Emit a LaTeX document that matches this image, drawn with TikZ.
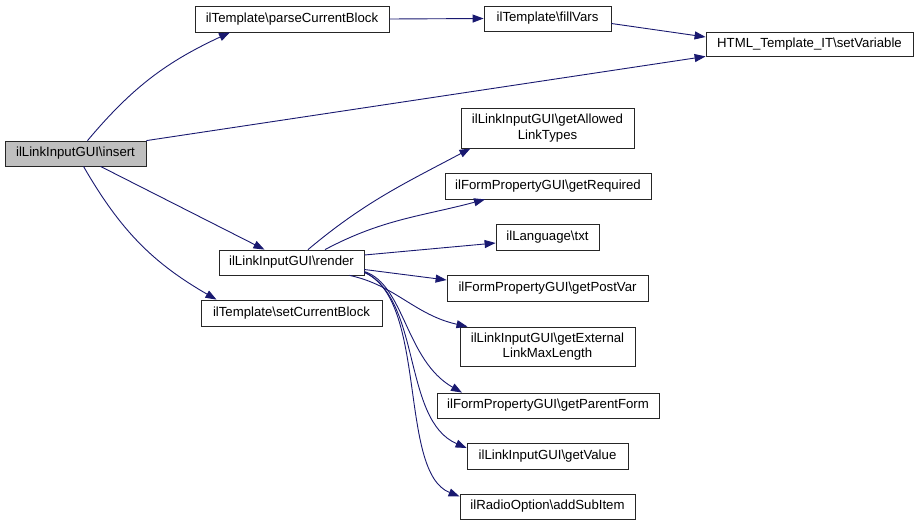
\documentclass[tikz,border=0pt]{standalone}
\usepackage{fontspec}
\setmainfont{Liberation Sans}
\usetikzlibrary{arrows.meta}
\definecolor{edgeblue}{RGB}{25,25,112}
\definecolor{rootgray}{RGB}{191,191,191}
\newcommand{\bsl}{\textbackslash}

\begin{document}
\begin{tikzpicture}[x=1pt,y=-1pt,
  fn/.style={draw=black!85,line width=0.8pt,fill=white,inner sep=0pt,minimum height=25pt,align=center,font=\fontsize{13.2}{15.5}\selectfont},
  call/.style={edgeblue,line width=0.9pt,-{Triangle[length=11pt,width=8pt]}}]
\useasboundingbox (0,0) rectangle (919,525);

\node[fn,fill=rootgray,minimum width=141pt] (insert) at (75.5,153.5) {ilLinkInputGUI\bsl insert};
\node[fn,minimum width=194pt,minimum height=26pt] (parse) at (292,19) {ilTemplate\bsl parseCurrentBlock};
\node[fn,minimum width=127pt] (fill) at (547.5,18.5) {ilTemplate\bsl fillVars};
\node[fn,minimum width=207pt,minimum height=24pt] (setvar) at (809.5,44) {HTML\_Template\_IT\bsl setVariable};
\node[fn,minimum width=145pt] (render) at (291.5,262.5) {ilLinkInputGUI\bsl render};
\node[fn,minimum width=181pt,minimum height=26pt] (setblock) at (291.5,313) {ilTemplate\bsl setCurrentBlock};
\node[fn,minimum width=173pt,minimum height=40pt] (allowed) at (547.5,128) {ilLinkInputGUI\bsl getAllowed\\LinkTypes};
\node[fn,minimum width=206pt,minimum height=26pt] (required) at (548,186) {ilFormPropertyGUI\bsl getRequired};
\node[fn,minimum width=103pt,minimum height=26pt] (txt) at (547.5,237) {ilLanguage\bsl txt};
\node[fn,minimum width=201pt,minimum height=26pt] (postvar) at (547.5,288) {ilFormPropertyGUI\bsl getPostVar};
\node[fn,minimum width=175pt,minimum height=39pt] (maxlen) at (547.5,346.5) {ilLinkInputGUI\bsl getExternal\\LinkMaxLength};
\node[fn,minimum width=222pt] (parent) at (548,405.5) {ilFormPropertyGUI\bsl getParentForm};
\node[fn,minimum width=161pt,minimum height=26pt] (value) at (547.5,456) {ilLinkInputGUI\bsl getValue};
\node[fn,minimum width=175pt] (subitem) at (547.5,506.5) {ilRadioOption\bsl addSubItem};

\draw[call] ([xshift=12pt]insert.north) to[out=50,in=205] ([xshift=-62pt]parse.south);
\draw[call] (insert.north east) -- (setvar.south west);
\draw[call] ([xshift=25pt]insert.south) -- ([xshift=-27pt]render.north);
\draw[call] ([xshift=8pt]insert.south) to[out=-60,in=150] ([xshift=-75pt]setblock.north);
\draw[call] (parse.east) -- (fill.west);
\draw[call] ([yshift=-5pt]fill.east) -- ([yshift=7pt]setvar.west);
\draw[call] ([xshift=16.5pt]render.north) to[out=40,in=208] ([xshift=-77pt]allowed.south);
\draw[call] ([xshift=33.5pt]render.north) to[out=28,in=195] ([xshift=-63pt]required.south);
\draw[call] ([yshift=7.5pt]render.east) -- ([yshift=-6pt]txt.west);
\draw[call] ([yshift=-7pt]render.east) -- ([yshift=8pt]postvar.west);
\draw[call] ([xshift=58pt]render.south) .. controls (395,285) and (415,315) .. ([xshift=-80pt]maxlen.north);
\draw[call] ([yshift=-9pt]render.east) .. controls (405,285) and (405,360) .. ([xshift=-86pt]parent.north);
\draw[call] ([yshift=-9.5pt]render.east) .. controls (422,300) and (402,420) .. ([yshift=8pt]value.west);
\draw[call] ([yshift=-10pt]render.east) .. controls (428,300) and (398,472) .. ([yshift=10pt]subitem.west);

\end{tikzpicture}
\end{document}
